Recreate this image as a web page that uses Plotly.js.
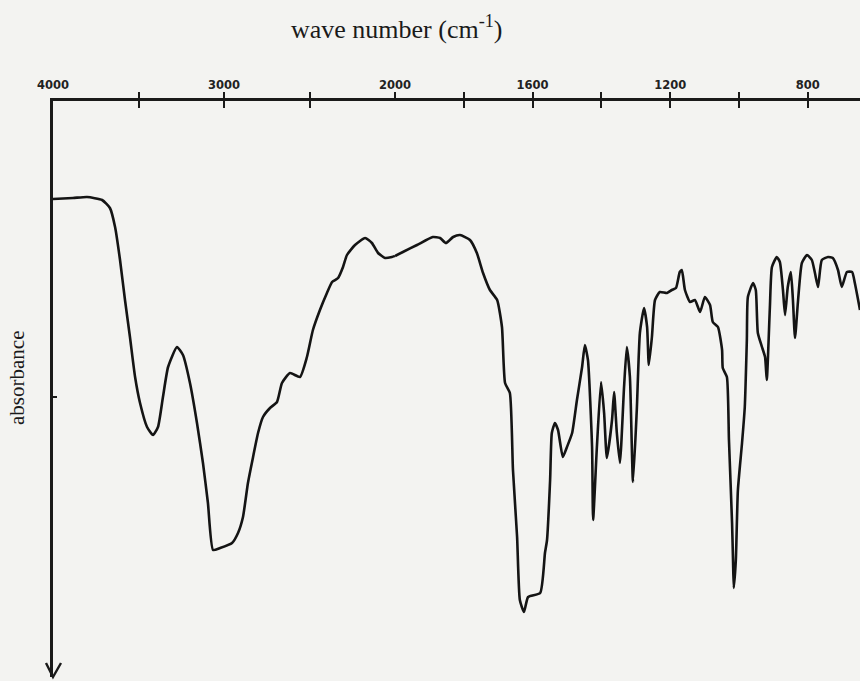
<!DOCTYPE html>
<html>
<head>
<meta charset="utf-8">
<script src="https://cdn.plot.ly/plotly-3.0.1.min.js"></script>
<style>html,body{margin:0;padding:0;background:#f3f3f1;}</style>
</head>
<body>
<div id="chart" style="width:860px;height:681px;"></div>
<script>
// Spectrum, 4000-2000 cm-1 part (compressed scale)
const wnHigh = [4000,3883,3801,3713,3667,3637,3608,3579,3550,3520,3491,3450,3415,3386,3357,3327,3275,3240,3199,3158,3123,3094,3064,3023,2953,2918,2889,2860,2830,2801,2772,2731,2690,2661,2614,2556,2515,2480,2439,2398,2368,2333,2304,2281,2234,2175,2135,2099,2058,2018,2000];
const absHigh = [0.98,0.97,0.96,0.99,1.07,1.26,1.59,1.99,2.36,2.76,3.02,3.26,3.34,3.26,2.96,2.66,2.46,2.54,2.82,3.22,3.62,4.02,4.49,4.47,4.42,4.32,4.16,3.82,3.56,3.32,3.16,3.07,3.01,2.82,2.72,2.76,2.56,2.29,2.09,1.92,1.81,1.77,1.66,1.54,1.44,1.37,1.42,1.52,1.57,1.56,1.55];
// Spectrum, 2000-650 cm-1 part (expanded scale)
const wnLow = [2000,1977,1936,1890,1869,1852,1831,1811,1782,1762,1744,1724,1703,1689,1680,1666,1657,1645,1637,1625,1613,1578,1564,1558,1549,1544,1535,1526,1512,1500,1485,1471,1456,1448,1439,1427,1424,1413,1401,1392,1384,1369,1363,1355,1346,1334,1326,1317,1308,1297,1288,1276,1267,1262,1253,1244,1230,1209,1195,1183,1172,1166,1157,1142,1128,1113,1099,1084,1076,1061,1049,1047,1035,1029,1020,1017,1015,1009,1003,991,983,977,974,959,951,945,933,924,919,910,904,890,881,872,866,858,849,843,837,828,817,802,788,779,770,759,741,727,712,701,686,671,663,648];
const absLow = [1.55,1.51,1.44,1.36,1.37,1.42,1.36,1.34,1.39,1.52,1.72,1.89,1.99,2.26,2.82,2.92,3.69,4.36,4.99,5.11,4.96,4.92,4.52,4.39,3.79,3.32,3.22,3.29,3.56,3.46,3.32,2.99,2.66,2.44,2.59,3.46,4.19,3.46,2.81,3.12,3.57,3.19,2.91,3.32,3.62,2.86,2.46,2.76,3.81,3.09,2.32,2.07,2.26,2.64,2.36,1.99,1.91,1.92,1.89,1.87,1.71,1.69,1.89,2.01,1.99,2.11,1.96,2.04,2.21,2.26,2.49,2.67,2.76,3.39,4.22,4.62,4.87,4.59,3.89,3.42,3.06,2.39,1.96,1.82,1.89,2.32,2.46,2.56,2.79,2.06,1.66,1.56,1.61,1.89,2.14,1.86,1.71,1.99,2.37,1.99,1.62,1.54,1.59,1.72,1.86,1.59,1.56,1.57,1.69,1.86,1.71,1.71,1.82,2.09];

// Top-axis ticks
const labelTicksHigh = [4000,3000];
const labelTextHigh = ['4000','3000'];
const minorTicksHigh = [3500,2500];
const labelTicksLow = [2000,1600,1200,800];
const labelTextLow = ['2000','1600','1200','800'];
const minorTicksLow = [1800,1400,1000];
const yTick = [2.96];

const lineStyle = {color:'#141414', width:2.6, shape:'spline', smoothing:0.5};
const traces = [
  {x:wnHigh, y:absHigh, xaxis:'x', yaxis:'y', mode:'lines', line:lineStyle, hoverinfo:'skip'},
  {x:wnLow, y:absLow, xaxis:'x2', yaxis:'y', mode:'lines', line:lineStyle, hoverinfo:'skip'},
  {x:[], y:[], xaxis:'x3', yaxis:'y', mode:'lines'},
  {x:[], y:[], xaxis:'x4', yaxis:'y', mode:'lines'}
];

const split = (395-53)/807;
const axCol = '#1a1a1a';
const tickFont = {family:'DejaVu Sans', size:11.5, color:'#222', weight:'bold'};
const minorStyle = {tickmode:'array', ticks:'inside', ticklen:7, tickwidth:2, tickcolor:axCol, showgrid:false};
const baseX = {side:'top', anchor:'y', showline:true, linewidth:2.6, linecolor:axCol,
  ticks:'inside', ticklen:7, tickwidth:2, tickcolor:axCol, showgrid:false, zeroline:false,
  tickfont:tickFont, ticklabelstandoff:5, fixedrange:true};
const overlayX = {side:'top', anchor:'y', tickmode:'array', ticks:'outside', ticklen:8, tickwidth:2, tickcolor:axCol,
  showticklabels:false, showline:false, showgrid:false, zeroline:false};

const layout = {
  width:860, height:681,
  margin:{l:53, r:0, t:101, b:4, pad:0},
  paper_bgcolor:'#f3f3f1', plot_bgcolor:'#f3f3f1',
  showlegend:false,
  xaxis: Object.assign({}, baseX, {domain:[0, split], range:[4000,2000], tickmode:'array',
    tickvals:labelTicksHigh, ticktext:labelTextHigh, minor:Object.assign({}, minorStyle, {tickvals:minorTicksHigh})}),
  xaxis2: Object.assign({}, baseX, {domain:[split, 1], range:[2000,648], tickmode:'array',
    tickvals:labelTicksLow, ticktext:labelTextLow, minor:Object.assign({}, minorStyle, {tickvals:minorTicksLow})}),
  xaxis3: Object.assign({}, overlayX, {overlaying:'x', domain:[0, split], range:[4000,2000], tickvals:minorTicksHigh.concat([3000])}),
  xaxis4: Object.assign({}, overlayX, {overlaying:'x2', domain:[split, 1], range:[2000,648], tickvals:labelTicksLow.concat(minorTicksLow)}),
  yaxis: {anchor:'x', range:[5.76, 0], showline:true, linewidth:2.6, linecolor:axCol, tickmode:'array', tickvals:yTick,
    showticklabels:false, ticks:'inside', ticklen:4, tickwidth:2, tickcolor:axCol, showgrid:false, zeroline:false, fixedrange:true},
  annotations:[
    {text:'wave number (cm<sup>-1</sup>)', xref:'paper', yref:'paper', x:(397-53)/807, y:(677-28)/576,
     xanchor:'center', yanchor:'middle', showarrow:false, font:{family:'Liberation Serif', size:26, color:'#1a1a1a'}},
    {text:'absorbance', xref:'paper', yref:'paper', x:(17-53)/807, y:(677-378)/576, textangle:-90,
     xanchor:'center', yanchor:'middle', showarrow:false, font:{family:'Liberation Serif', size:21, color:'#1a1a1a'}}
  ],
  shapes:[
    {type:'path', xref:'paper', yref:'paper', path:'M -0.00867,0.0243 L 0,0 L 0.0099,0.0243', line:{color:axCol, width:2.4}}
  ]
};

Plotly.newPlot('chart', traces, layout, {displayModeBar:false, staticPlot:true});
</script>
</body>
</html>
